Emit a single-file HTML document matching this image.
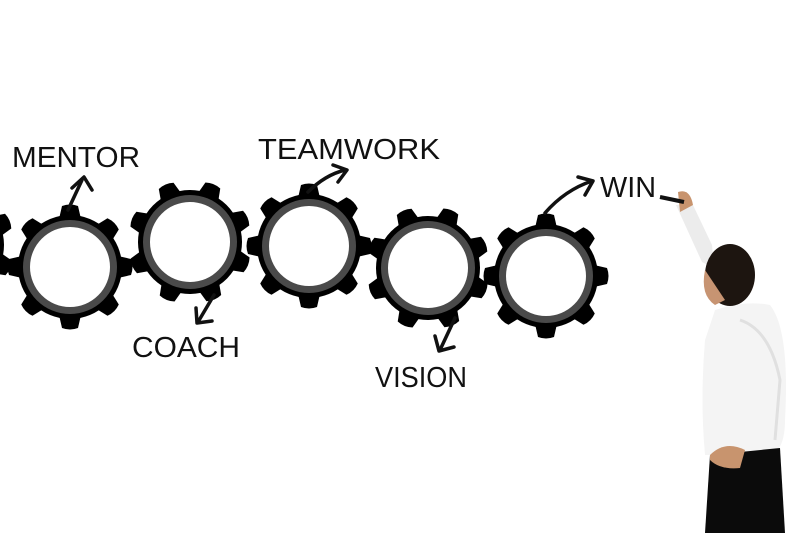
<!DOCTYPE html>
<html><head><style>
html,body{margin:0;padding:0;background:#fff;}
body{width:800px;height:533px;overflow:hidden;position:relative;}
svg{position:absolute;left:0;top:0;}
text{font-family:"Liberation Sans",sans-serif;fill:#111;font-size:29px;}
</style></head><body>
<svg width="800" height="533" viewBox="0 0 800 533">
<defs>
<path id="t" d="M-11,-48 L-8,-61 Q0,-64 8,-61 L11,-48 Z"/>
<g id="gear">
<circle r="52" fill="#000"/>
<g fill="#000">
<use href="#t"/>
<use href="#t" transform="rotate(45)"/>
<use href="#t" transform="rotate(90)"/>
<use href="#t" transform="rotate(135)"/>
<use href="#t" transform="rotate(180)"/>
<use href="#t" transform="rotate(225)"/>
<use href="#t" transform="rotate(270)"/>
<use href="#t" transform="rotate(315)"/>
</g>
<circle r="47" fill="#4a4a4a"/>
<circle r="40" fill="#fff"/>
</g>
</defs>
<use href="#gear" transform="translate(-48,245) rotate(22)"/>
<use href="#gear" transform="translate(70,267)"/>
<use href="#gear" transform="translate(190,242) rotate(22)"/>
<use href="#gear" transform="translate(309,246)"/>
<use href="#gear" transform="translate(428,268) rotate(22)"/>
<use href="#gear" transform="translate(546,276)"/>
<g stroke="#111" stroke-width="3.5" fill="none" stroke-linecap="round" stroke-linejoin="round">
<path d="M68,210 L82,180"/><path d="M72,188 L84,177 L92,190"/>
<path d="M308,192 Q325,175 345,170"/><path d="M333,165 L347,170 L338,182"/>
<path d="M545,213 Q565,190 592,181"/><path d="M578,177 L593,181 L585,195"/>
<path d="M214,295 L198,322"/><path d="M196,308 L197,323 L212,321"/>
<path d="M455,318 L440,350"/><path d="M435,336 L439,351 L454,347"/>
</g>
<text x="12" y="167" textLength="128" lengthAdjust="spacingAndGlyphs">MENTOR</text>
<text x="258" y="159" textLength="182" lengthAdjust="spacingAndGlyphs">TEAMWORK</text>
<text x="132" y="357" textLength="108" lengthAdjust="spacingAndGlyphs">COACH</text>
<text x="375" y="387" textLength="92" lengthAdjust="spacingAndGlyphs">VISION</text>
<text x="600" y="197" textLength="56" lengthAdjust="spacingAndGlyphs">WIN</text>
<path d="M676,205 L692,203 L712,245 L714,268 L702,262 Z" fill="#ececec"/>
<path d="M678,192 Q690,188 693,205 L680,212 Z" fill="#c8946e"/>
<path d="M660,197 L684,202" stroke="#111" stroke-width="4"/>
<path d="M715,310 Q745,300 770,305 Q790,330 785,420 Q785,450 770,455 L705,455 Q700,400 705,340 Z" fill="#f4f4f4"/>
<path d="M740,320 Q770,330 780,380 L775,440" stroke="#e0e0e0" stroke-width="3" fill="none"/>
<ellipse cx="730" cy="275" rx="25" ry="31" fill="#1d1510"/>
<path d="M705,270 Q700,295 715,305 L725,300 Z" fill="#c79472"/>
<path d="M710,455 L780,448 L785,533 L705,533 Z" fill="#0b0b0b"/>
<path d="M710,455 Q725,440 745,450 L740,468 Q720,470 710,460 Z" fill="#c8946e"/>
</svg>
</body></html>
